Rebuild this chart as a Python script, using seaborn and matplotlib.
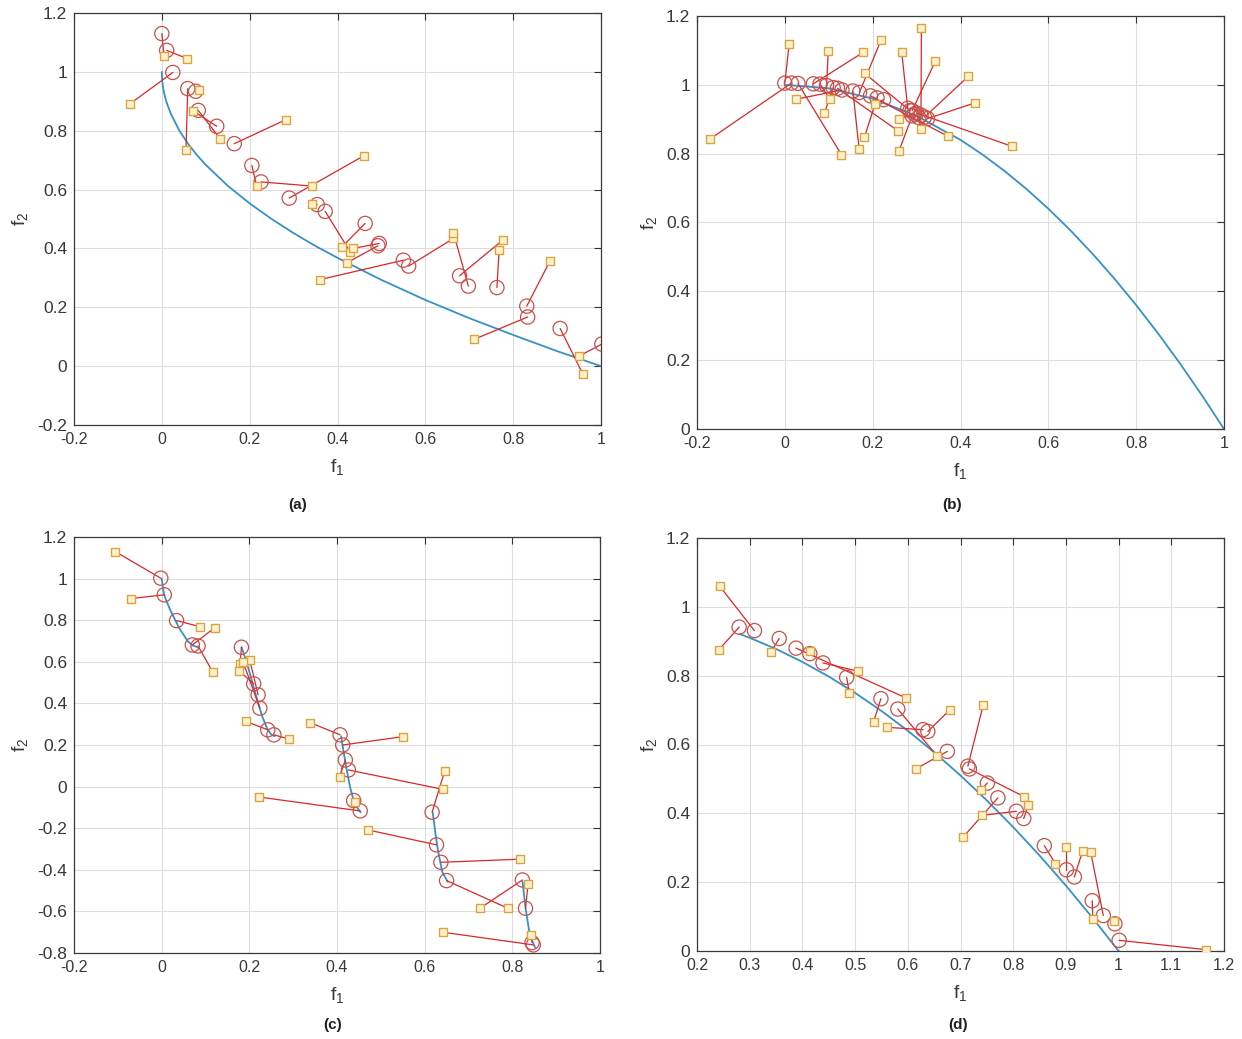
import numpy as np
import pandas as pd
import matplotlib
matplotlib.use("Agg")
import matplotlib.pyplot as plt
import seaborn as sns

# ---------------- data ----------------
# panel (a)
a_front_x = [0.0, 0.001, 0.0025, 0.005, 0.01, 0.02, 0.04, 0.06, 0.08, 0.1, 0.15, 0.2, 0.25, 0.3, 0.35,
             0.4, 0.5, 0.6, 0.7, 0.8, 0.9, 1.0]
a_front_y = [1.0, 0.968, 0.95, 0.929, 0.9, 0.859, 0.8, 0.755, 0.717, 0.684, 0.613, 0.553, 0.5, 0.452, 0.408,
             0.368, 0.293, 0.225, 0.163, 0.106, 0.051, 0.0]
a_cx = [0.000, 0.011, 0.025, 0.059, 0.077, 0.083, 0.125, 0.165, 0.205, 0.226, 0.290, 0.354, 0.372,
        0.463, 0.495, 0.492, 0.550, 0.562, 0.698, 0.678, 0.763, 0.831, 0.833, 0.907, 1.002]
a_cy = [1.130, 1.073, 0.998, 0.943, 0.934, 0.869, 0.815, 0.756, 0.682, 0.626, 0.571, 0.549, 0.526,
        0.485, 0.417, 0.409, 0.360, 0.340, 0.272, 0.307, 0.267, 0.204, 0.167, 0.128, 0.075]
a_sx = [0.005, 0.058, -0.072, 0.055, 0.085, 0.133, 0.072, 0.283, 0.216, 0.341, 0.460, 0.341, 0.429,
        0.410, 0.436, 0.421, 0.360, 0.664, 0.664, 0.776, 0.768, 0.884, 0.711, 0.959, 0.951]
a_sy = [1.054, 1.045, 0.892, 0.736, 0.937, 0.772, 0.867, 0.838, 0.611, 0.612, 0.715, 0.552, 0.388,
        0.405, 0.400, 0.351, 0.294, 0.434, 0.453, 0.428, 0.394, 0.358, 0.091, -0.028, 0.035]

# panel (b)
b_front_x = [0.0, 0.1, 0.2, 0.3, 0.4, 0.45, 0.5, 0.55, 0.6, 0.65, 0.7, 0.75, 0.8, 0.85, 0.9, 0.95, 1.0]
b_front_y = [1.0, 0.99, 0.96, 0.91, 0.84, 0.7975, 0.75, 0.6975, 0.64, 0.5775, 0.51, 0.4375, 0.36,
             0.2775, 0.19, 0.0975, 0.0]
b_cx = [0.000, 0.015, 0.030, 0.065, 0.080, 0.095, 0.110, 0.130, 0.155, 0.170, 0.195, 0.210, 0.225,
        0.120, 0.285, 0.280, 0.290, 0.300, 0.310, 0.318, 0.325, 0.305, 0.295, 0.290]
b_cy = [1.005, 1.005, 1.004, 1.003, 1.002, 0.998, 0.992, 0.985, 0.982, 0.978, 0.968, 0.962, 0.957,
        0.990, 0.925, 0.932, 0.925, 0.918, 0.912, 0.906, 0.902, 0.905, 0.915, 0.910]
b_sx = [0.010, -0.171, 0.129, 0.178, 0.103, 0.099, 0.090, 0.025, 0.169, 0.219, 0.371, 0.181, 0.205,
        0.258, 0.182, 0.266, 0.343, 0.518, 0.311, 0.418, 0.434, 0.309, 0.260, 0.260]
b_sy = [1.120, 0.842, 0.797, 1.094, 0.958, 1.099, 0.917, 0.958, 0.815, 1.130, 0.851, 0.847, 0.944,
        0.866, 1.033, 1.096, 1.070, 0.821, 1.165, 1.025, 0.948, 0.872, 0.902, 0.808]

# panel (c) - disconnected front, five pieces
c_front_x = [0.0, 0.005, 0.01, 0.02, 0.04, 0.06, 0.07, 0.083,
             0.1822, 0.19, 0.20, 0.21, 0.22, 0.23, 0.24, 0.25, 0.2578,
             0.4093, 0.42, 0.43, 0.44, 0.4539,
             0.6184, 0.625, 0.63, 0.64, 0.6525,
             0.8233, 0.83, 0.84, 0.8518]
c_front_y = [1.0, 0.928, 0.897, 0.847, 0.762, 0.698, 0.679, 0.670,
             0.670, 0.623, 0.553, 0.477, 0.402, 0.334, 0.282, 0.250, 0.242,
             0.242, 0.105, -0.004, -0.082, -0.124,
             -0.125, -0.232, -0.303, -0.409, -0.458,
             -0.457, -0.582, -0.715, -0.773]
c_front_piece = [1] * 8 + [2] * 9 + [3] * 5 + [4] * 5 + [5] * 4
c_cx = [-0.002, 0.006, 0.034, 0.070, 0.083, 0.182, 0.210, 0.220, 0.224, 0.242, 0.256, 0.407, 0.413,
        0.419, 0.426, 0.438, 0.453, 0.617, 0.627, 0.637, 0.650, 0.823, 0.830, 0.848, 0.845]
c_cy = [1.002, 0.922, 0.798, 0.681, 0.676, 0.670, 0.494, 0.441, 0.377, 0.273, 0.249, 0.249, 0.200,
        0.128, 0.080, -0.067, -0.117, -0.123, -0.280, -0.364, -0.452, -0.449, -0.585, -0.761, -0.750]
c_sx = [-0.106, -0.070, 0.087, 0.121, 0.116, 0.179, 0.176, 0.201, 0.186, 0.193, 0.290, 0.338, 0.550,
        0.406, 0.641, 0.440, 0.222, 0.646, 0.470, 0.817, 0.790, 0.726, 0.836, 0.641, 0.843]
c_sy = [1.130, 0.904, 0.769, 0.764, 0.553, 0.590, 0.558, 0.609, 0.598, 0.313, 0.229, 0.308, 0.240,
        0.048, -0.013, -0.075, -0.050, 0.077, -0.208, -0.349, -0.585, -0.585, -0.469, -0.700, -0.713]

# panel (d)
d_front_x = [0.2808, 0.3, 0.35, 0.4, 0.45, 0.5, 0.55, 0.6, 0.65, 0.7, 0.75, 0.8, 0.85, 0.9, 0.95, 1.0]
d_front_y = [0.921, 0.91, 0.8775, 0.84, 0.7975, 0.75, 0.6975, 0.64, 0.5775, 0.51, 0.4375, 0.36,
             0.2775, 0.19, 0.0975, 0.0]
d_cx = [0.309, 0.280, 0.356, 0.388, 0.414, 0.439, 0.484, 0.549, 0.581, 0.629, 0.638, 0.675, 0.714,
        0.717, 0.751, 0.771, 0.806, 0.820, 0.859, 0.901, 0.916, 0.971, 0.950, 0.993, 1.001]
d_cy = [0.931, 0.941, 0.908, 0.880, 0.864, 0.837, 0.795, 0.733, 0.703, 0.643, 0.638, 0.580, 0.537,
        0.529, 0.488, 0.445, 0.406, 0.385, 0.306, 0.236, 0.215, 0.103, 0.146, 0.079, 0.031]
d_sx = [0.243, 0.242, 0.340, 0.597, 0.414, 0.505, 0.489, 0.535, 0.655, 0.560, 0.680, 0.615, 0.743,
        0.821, 0.738, 0.705, 0.741, 0.829, 0.880, 0.901, 0.932, 0.947, 0.951, 0.991, 1.165]
d_sy = [1.060, 0.876, 0.868, 0.735, 0.871, 0.813, 0.750, 0.666, 0.568, 0.650, 0.701, 0.529, 0.714,
        0.448, 0.467, 0.331, 0.394, 0.425, 0.254, 0.302, 0.292, 0.288, 0.094, 0.086, 0.004]

panel_names = ["(a)", "(b)", "(c)", "(d)"]
x_ticks = {"a": [-0.2, 0, 0.2, 0.4, 0.6, 0.8, 1], "b": [-0.2, 0, 0.2, 0.4, 0.6, 0.8, 1],
           "c": [-0.2, 0, 0.2, 0.4, 0.6, 0.8, 1],
           "d": [0.2, 0.3, 0.4, 0.5, 0.6, 0.7, 0.8, 0.9, 1, 1.1, 1.2]}
y_ticks = {"a": [-0.2, 0, 0.2, 0.4, 0.6, 0.8, 1, 1.2], "b": [0, 0.2, 0.4, 0.6, 0.8, 1, 1.2],
           "c": [-0.8, -0.6, -0.4, -0.2, 0, 0.2, 0.4, 0.6, 0.8, 1, 1.2],
           "d": [0, 0.2, 0.4, 0.6, 0.8, 1, 1.2]}

# ---------------- style ----------------
sns.set_theme(style="white")
plt.rcParams['font.family'] = ['Liberation Sans', 'DejaVu Sans']
plt.rcParams['mathtext.fontset'] = 'custom'
plt.rcParams['mathtext.rm'] = 'Liberation Sans'
plt.rcParams['mathtext.it'] = 'Liberation Sans'
plt.rcParams['axes.unicode_minus'] = False

BLUE = "#3591c8"
RED = "#d9262b"
CIRC = "#c8504a"
SQ_EDGE = "#dca43a"
SQ_FACE = "#fbf0d2"
TXT = "#383838"

W, H = 1242, 1039
fig = plt.figure(figsize=(W / 100, H / 100), dpi=100)


def axes_px(left, top, right, bottom):
    return fig.add_axes([left / W, 1 - bottom / H, (right - left) / W, (bottom - top) / H])


def draw(ax, fx, fy, fpiece, cx, cy, sx, sy, xt, yt):
    front = pd.DataFrame({"x": fx, "y": fy, "piece": fpiece})
    sns.lineplot(data=front, x="x", y="y", units="piece", estimator=None, sort=False,
                 color=BLUE, lw=1.3, ax=ax, zorder=2)
    n = len(cx)
    pairs = pd.DataFrame({"x": list(cx) + list(sx), "y": list(cy) + list(sy),
                          "pair": list(range(n)) * 2})
    sns.lineplot(data=pairs, x="x", y="y", units="pair", estimator=None, sort=False,
                 color=RED, lw=0.9, ax=ax, zorder=3)
    sns.scatterplot(x=cx, y=cy, marker="o", s=105, color="none", edgecolor=CIRC,
                    linewidth=0.9, ax=ax, zorder=4)
    sns.scatterplot(x=sx, y=sy, marker="s", s=28, color=SQ_FACE, edgecolor=SQ_EDGE,
                    linewidth=1.0, ax=ax, zorder=5)
    ax.set_xlim(xt[0], xt[-1])
    ax.set_ylim(yt[0], yt[-1])
    ax.set_xticks(xt)
    ax.set_yticks(yt)
    ax.set_xticklabels([f"{round(v, 2):g}" for v in xt], fontsize=11.5, color=TXT)
    ax.set_yticklabels([f"{round(v, 2):g}" for v in yt], fontsize=12.5, color=TXT)
    ax.tick_params(direction="in", top=True, right=True, length=5, width=0.8,
                   color="#333333", pad=5)
    ax.grid(True, color="#dddddd", lw=0.8)
    ax.set_axisbelow(True)
    for sp in ax.spines.values():
        sp.set_color("#3a3a3a")
        sp.set_linewidth(0.9)
    ax.set_xlabel(r"$\mathregular{f_1}$", fontsize=14, color=TXT, labelpad=7)
    ax.set_ylabel(r"$\mathregular{f_2}$", fontsize=14, color=TXT, labelpad=5)


ax_a = axes_px(74, 13, 601, 425)
ax_b = axes_px(697, 16, 1224, 429)
ax_c = axes_px(74, 537, 600, 953)
ax_d = axes_px(697, 538, 1224, 951)

draw(ax_a, a_front_x, a_front_y, [1] * len(a_front_x), a_cx, a_cy, a_sx, a_sy, x_ticks["a"], y_ticks["a"])
draw(ax_b, b_front_x, b_front_y, [1] * len(b_front_x), b_cx, b_cy, b_sx, b_sy, x_ticks["b"], y_ticks["b"])
draw(ax_c, c_front_x, c_front_y, c_front_piece, c_cx, c_cy, c_sx, c_sy, x_ticks["c"], y_ticks["c"])
draw(ax_d, d_front_x, d_front_y, [1] * len(d_front_x), d_cx, d_cy, d_sx, d_sy, x_ticks["d"], y_ticks["d"])

for name, (px, py) in zip(panel_names, [(298, 505), (952, 505), (333, 1025), (958, 1025)]):
    fig.text(px / W, 1 - py / H, name, ha="center", va="center", fontsize=11,
             fontweight="bold", color="#222222")

fig.savefig("out.png", dpi=100, facecolor="white")
